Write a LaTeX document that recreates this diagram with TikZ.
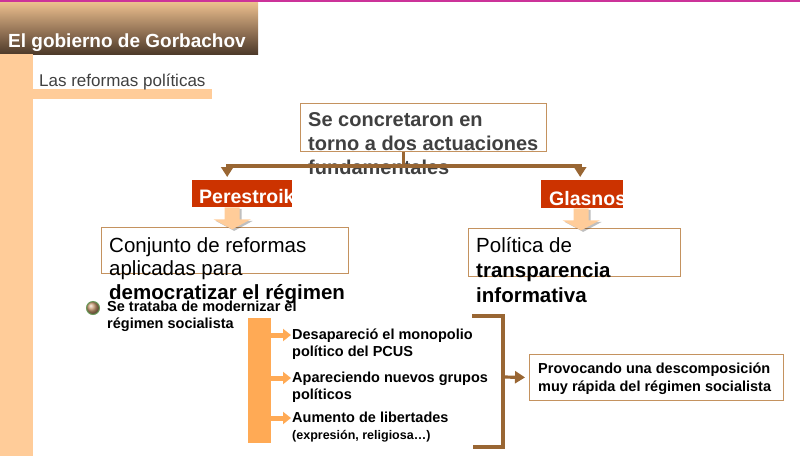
\documentclass[tikz,border=0pt]{standalone}
\usepackage{fontspec}
\setmainfont{Liberation Sans}
\usetikzlibrary{positioning}
\usetikzlibrary{calc}
\usetikzlibrary{arrows.meta}
\definecolor{headtop}{HTML}{F2C592}
\definecolor{headmid}{HTML}{A07E5E}
\definecolor{headbot}{HTML}{4E3A2A}
\definecolor{peach}{HTML}{FFCC99}
\definecolor{topline}{HTML}{CC3399}
\definecolor{redtab}{HTML}{CC3300}
\definecolor{brownline}{HTML}{996633}
\definecolor{boxframe}{HTML}{C4925F}
\definecolor{orangebar}{HTML}{FFAA55}
\definecolor{darktext}{HTML}{404040}
\definecolor{ballbrown}{HTML}{C89A70}
\definecolor{ballgreen}{HTML}{6A9A5A}
\tikzset{
    frame/.style={draw=boxframe, line width=1pt, inner sep=0pt, anchor=north west},
    tab/.style={fill=redtab, inner sep=0pt, anchor=north west},
    boxtext/.style={inner sep=0pt, anchor=north west, align=left},
    tabtext/.style={inner sep=0pt, anchor=base west, text=white, font=\bfseries\fontsize{19.5}{22}\selectfont},
    small/.style={boxtext, font=\bfseries\fontsize{14.5}{17}\selectfont},
    link/.style={draw=brownline, line width=3.2pt, -{Triangle[width=12pt,length=10pt]}},
    feed/.style={draw=orangebar, line width=5pt, -{Triangle[width=12pt,length=8pt]}}
}
\begin{document}
\begin{tikzpicture}[x=1pt, y=-1pt]
\useasboundingbox (0,0) rectangle (800,456);
% header and side bars
\shade[top color=headtop, bottom color=headbot, middle color=headmid] (0,0) rectangle (258,54);
\node (title) at (8,47) [anchor=base west, inner sep=0pt, text=white, font=\bfseries\fontsize{19}{22}\selectfont] {El gobierno de Gorbachov};
\fill[peach] (0,54) rectangle (33,456);
\fill[peach] (33,89) rectangle (212,99);
\node (sub) at (39,86) [anchor=base west, inner sep=0pt, text=darktext, font=\fontsize{17}{20}\selectfont] {Las reformas políticas};
\fill[topline] (0,0) rectangle (800,1.5);
% boxes
\node (concr) at (300,103) [frame, minimum width=246pt, minimum height=48pt] {};
\node (concrtext) at (308,112) [boxtext, text=darktext, font=\bfseries\fontsize{20}{24}\selectfont] {Se concretaron en\\torno a dos actuaciones\\fundamentales};
\node (pere) at (192,180) [tab, minimum width=100pt, minimum height=27pt] {};
\node (glas) at (541,180) [tab, minimum width=82pt, minimum height=28pt] {};
\node (peretext) at ($(pere.north west)+(7,23)$) [tabtext] {Perestroika};
\node (glastext) at ($(glas.north west)+(8,25)$) [tabtext] {Glasnost};
\node (conj) at (101,227) [frame, minimum width=247pt, minimum height=46pt] {};
\node (conjtext) at (109,237) [boxtext, font=\fontsize{20.5}{23.5}\selectfont] {Conjunto de reformas\\aplicadas para\\\textbf{democratizar el régimen}};
\node (polit) at (468,228) [frame, minimum width=212pt, minimum height=48pt] {};
\node (polittext) at (476,237) [boxtext, font=\fontsize{20.5}{25}\selectfont] {Política de\\\textbf{transparencia}\\\textbf{informativa}};
% top connectors
\coordinate (stem) at ($(concr.south)+(-20,0)$);
\coordinate (split) at ($(stem)+(0,14)$);
\draw[brownline, line width=3.2pt] (stem) -- (split);
\draw[link, shorten >=3pt] (split) -| ([xshift=-15pt]pere.north);
\draw[link, shorten >=3pt] (split) -| ([xshift=-2pt]glas.north);
% peach block arrows
\foreach \t/\dx in {pere/-10, glas/-1}{
    \fill[black, opacity=0.25] ($(\t.south)+(\dx-5.5,1.5)$) -- ++(15,0) -- ++(0,12) -- ++(11,0) -- ++(-18.5,10) -- ++(-18.5,-10) -- ++(11,0) -- cycle;
    \fill[peach] ($(\t.south)+(\dx-7.5,0)$) -- ++(15,0) -- ++(0,12) -- ++(11,0) -- ++(-18.5,10) -- ++(-18.5,-10) -- ++(11,0) -- cycle;
}
% bullet
\coordinate (bullet) at (93,308);
\shadedraw[ball color=ballbrown, draw=ballgreen, line width=1pt] (bullet) circle (6.5);
\node (trataba) at (107,300.5) [small] {Se trataba de modernizar el\\régimen socialista};
% orange bar with items
\node (bar) at (248,318) [anchor=north west, fill=orangebar, inner sep=0pt, minimum width=23pt, minimum height=125pt] {};
\node (mono) at (292,328.5) [small] {Desapareció el monopolio\\político del PCUS};
\node (grupos) at (292,371.5) [small] {Apareciendo nuevos grupos\\políticos};
\node (liber) at (292,411.5) [small] {Aumento de libertades\\{\fontsize{12.5}{14}\selectfont(expresión, religiosa…)}};
\foreach \entry in {mono, grupos, liber}{
    \coordinate (\entry-in) at ($(\entry.north west)+(-1,6.5)$);
    \draw[feed] (bar.east |- \entry-in) -- (\entry-in);
}
% bracket
\coordinate (brtop) at (472,316);
\coordinate (brbot) at (473,447);
\coordinate (brmid) at (503,377);
\draw[brownline, line width=3.2pt] (brtop) -- ++(31,0) |- (brbot);
\node (prov) at (529,354) [frame, minimum width=254pt, minimum height=46pt] {};
\node (provtext) at (538,362.5) [small, font=\bfseries\fontsize{14.5}{18}\selectfont] {Provocando una descomposición\\muy rápida del régimen socialista};
\draw[link, shorten >=4pt] (brmid) -- (prov.west);
\end{tikzpicture}
\end{document}
